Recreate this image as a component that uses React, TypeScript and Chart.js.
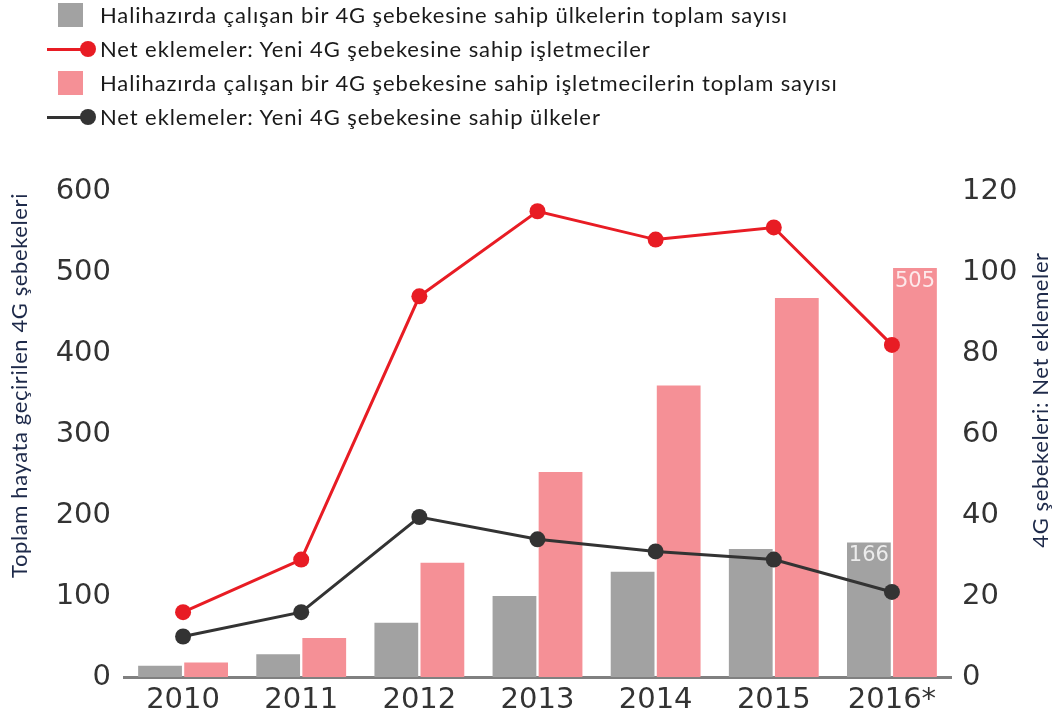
import React, { useEffect, useRef } from "react";
import { Chart, registerables } from "chart.js";
Chart.register(...registerables);

const years = ["2010", "2011", "2012", "2013", "2014", "2015", "2016*"];
const countriesTotal = [14, 28, 67, 100, 130, 158, 166];
const operatorsTotal = [18, 48, 141, 253, 360, 468, 505];
const operatorsNet = [16, 29, 94, 115, 108, 111, 82];
const countriesNet = [10, 16, 39.5, 34, 31, 29, 21];
const labelledIndexes = [6];

const leftTicksMax = 600;
const leftStep = 100;
const rightTicksMax = 120;
const rightStep = 20;

const nameCountriesTotal = "Halihazırda çalışan bir 4G şebekesine sahip ülkelerin toplam sayısı";
const nameOperatorsNet = "Net eklemeler: Yeni 4G şebekesine sahip işletmeciler";
const nameOperatorsTotal = "Halihazırda çalışan bir 4G şebekesine sahip işletmecilerin toplam sayısı";
const nameCountriesNet = "Net eklemeler: Yeni 4G şebekesine sahip ülkeler";
const leftTitle = "Toplam hayata geçirilen 4G şebekeleri";
const rightTitle = "4G şebekeleri: Net eklemeler";

const GREY = "#a2a2a2";
const PINK = "#f59096";
const RED = "#e81c24";
const DARK = "#333333";
const TITLE_COLOR = "#1e2a4a";
const TICK_FONT = "DejaVu Sans";
const TEXT_FONT = "Lato";

type LegendItem = { label: string; kind: "bar" | "line"; color: string };

const legendItems: LegendItem[] = [
  { label: nameCountriesTotal, kind: "bar", color: GREY },
  { label: nameOperatorsNet, kind: "line", color: RED },
  { label: nameOperatorsTotal, kind: "bar", color: PINK },
  { label: nameCountriesNet, kind: "line", color: DARK },
];

const valueLabelPlugin = {
  id: "valueLabels",
  afterDatasetsDraw(chart: any) {
    const ctx = chart.ctx;
    chart.data.datasets.forEach((ds: any, di: number) => {
      if (ds.type !== "bar") return;
      const meta = chart.getDatasetMeta(di);
      labelledIndexes.forEach((i) => {
        const el = meta.data[i];
        if (!el) return;
        ctx.save();
        ctx.font = `21px "${TICK_FONT}"`;
        ctx.fillStyle = "rgba(255,255,255,0.8)";
        ctx.textAlign = "center";
        ctx.textBaseline = "top";
        ctx.fillText(String(ds.data[i]), el.x, el.y + 3);
        ctx.restore();
      });
    });
  },
};

function drawVerticalTitle(ctx: any, text: string, x: number, y: number) {
  ctx.save();
  ctx.translate(x, y);
  ctx.rotate(-Math.PI / 2);
  ctx.font = `22px "${TEXT_FONT}"`;
  try {
    ctx.letterSpacing = "0.6px";
  } catch (e) {}
  ctx.fillStyle = TITLE_COLOR;
  ctx.textAlign = "center";
  ctx.textBaseline = "middle";
  ctx.fillText(text, 0, 0);
  ctx.restore();
}

const axisTitlePlugin = {
  id: "axisTitles",
  afterDraw(chart: any) {
    const { ctx, chartArea } = chart;
    const h = chartArea.bottom - chartArea.top;
    drawVerticalTitle(ctx, leftTitle, 20, chartArea.top + h * 0.4);
    drawVerticalTitle(ctx, rightTitle, chart.width - 15, chartArea.top + h * 0.43);
  },
};

function Legend() {
  return (
    <div style={{ position: "absolute", left: 0, top: -2, width: 1056 }}>
      {legendItems.map((it, i) => (
        <div key={i} style={{ position: "relative", height: 34 }}>
          {it.kind === "bar" ? (
            <div
              style={{
                position: "absolute",
                left: 58,
                top: 5,
                width: 25,
                height: 24,
                background: it.color,
              }}
            />
          ) : (
            <>
              <div
                style={{
                  position: "absolute",
                  left: 47,
                  top: 16,
                  width: 41,
                  height: 3,
                  background: it.color,
                }}
              />
              <div
                style={{
                  position: "absolute",
                  left: 80,
                  top: 9,
                  width: 16,
                  height: 16,
                  borderRadius: "50%",
                  background: it.color,
                }}
              />
            </>
          )}
          <div
            style={{
              position: "absolute",
              left: 100,
              top: 0,
              height: 34,
              lineHeight: "34px",
              fontFamily: TEXT_FONT,
              fontSize: 22,
              letterSpacing: "0.9px",
              color: "#1a1a1a",
              whiteSpace: "nowrap",
            }}
          >
            {it.label}
          </div>
        </div>
      ))}
    </div>
  );
}

export default function App() {
  const ref = useRef<HTMLCanvasElement | null>(null);
  useEffect(() => {
    if (!ref.current) return;
    const tickFont = { family: TICK_FONT, size: 29 };
    const chart = new Chart(ref.current, {
      type: "bar",
      data: {
        labels: years,
        datasets: [
          {
            type: "bar",
            label: nameCountriesTotal,
            data: countriesTotal,
            backgroundColor: GREY,
            yAxisID: "y",
            order: 2,
            categoryPercentage: 0.78,
            barPercentage: 0.95,
          },
          {
            type: "line",
            label: nameOperatorsNet,
            data: operatorsNet,
            borderColor: RED,
            backgroundColor: RED,
            borderWidth: 3,
            pointRadius: 8,
            pointHoverRadius: 8,
            pointBackgroundColor: RED,
            pointBorderWidth: 0,
            yAxisID: "y1",
            order: 0,
          },
          {
            type: "bar",
            label: nameOperatorsTotal,
            data: operatorsTotal,
            backgroundColor: PINK,
            yAxisID: "y",
            order: 2,
            categoryPercentage: 0.78,
            barPercentage: 0.95,
          },
          {
            type: "line",
            label: nameCountriesNet,
            data: countriesNet,
            borderColor: DARK,
            backgroundColor: DARK,
            borderWidth: 3,
            pointRadius: 8,
            pointHoverRadius: 8,
            pointBackgroundColor: DARK,
            pointBorderWidth: 0,
            yAxisID: "y1",
            order: 1,
          },
        ] as any,
      },
      options: {
        animation: false,
        responsive: false,
        layout: { padding: { top: 191, left: 0, right: 0, bottom: 0 } },
        plugins: {
          legend: { display: false },
          tooltip: { enabled: false },
        },
        scales: {
          x: {
            grid: { display: false, drawTicks: false },
            border: { display: true, color: "#808080", width: 3 },
            ticks: { font: tickFont, color: DARK, padding: 6 },
            afterFit: (s: any) => {
              s.height = 45;
            },
          },
          y: {
            position: "left",
            min: 0,
            max: leftTicksMax,
            ticks: { stepSize: leftStep, font: tickFont, color: DARK, padding: 13 },
            grid: { display: false, drawTicks: false },
            border: { display: false },
            afterFit: (s: any) => {
              s.width = 124;
            },
          },
          y1: {
            position: "right",
            min: 0,
            max: rightTicksMax,
            ticks: { stepSize: rightStep, font: tickFont, color: DARK, padding: 11 },
            grid: { display: false, drawTicks: false },
            border: { display: false },
            afterFit: (s: any) => {
              s.width = 105;
            },
          },
        },
      } as any,
      plugins: [valueLabelPlugin, axisTitlePlugin],
    });
    return () => chart.destroy();
  }, []);

  return (
    <div style={{ position: "absolute", left: 0, top: 0, width: 1056, height: 722, background: "#fff" }}>
      <canvas ref={ref} width={1056} height={722} style={{ position: "absolute", left: 0, top: 0 }} />
      <Legend />
    </div>
  );
}
